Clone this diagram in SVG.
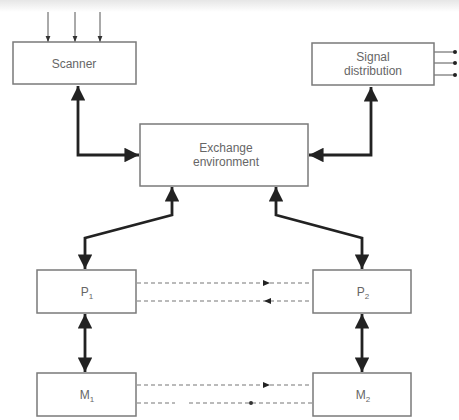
<svg xmlns="http://www.w3.org/2000/svg" width="459" height="420" viewBox="0 0 459 420">
<style>
.box{fill:#fff;stroke:#7a7a7a;stroke-width:1.5}
.t{font-family:"Liberation Sans",Arial,sans-serif;font-size:12px;fill:#666;text-anchor:middle}
.thick{fill:none;stroke:#222;stroke-width:2.8}
.thin{fill:none;stroke:#555;stroke-width:1}
.dash{fill:none;stroke:#777;stroke-width:1.2;stroke-dasharray:4 3}
</style>
<defs>
<linearGradient id="top" x1="0" y1="0" x2="0" y2="1">
<stop offset="0" stop-color="#e6e6e6"/><stop offset="1" stop-color="#fff"/>
</linearGradient>
<marker id="big" viewBox="0 0 10 10" refX="10" refY="5" markerWidth="5.2" markerHeight="5.2" orient="auto-start-reverse" markerUnits="strokeWidth"><path d="M0,0 L10,5 L0,10 Z" fill="#222"/></marker>
<marker id="sm" viewBox="0 0 10 10" refX="10" refY="5" markerWidth="6" markerHeight="6" orient="auto" markerUnits="strokeWidth"><path d="M0,1 L10,5 L0,9 Z" fill="#333"/></marker>
<marker id="dot" viewBox="0 0 10 10" refX="5" refY="5" markerWidth="5" markerHeight="5" markerUnits="strokeWidth"><circle cx="5" cy="5" r="4" fill="#222"/></marker>
</defs>
<rect x="0" y="0" width="459" height="420" fill="#fff"/>
<rect x="0" y="0" width="459" height="12" fill="url(#top)"/>
<g id="connectors">
<line class="thin" x1="48" y1="12" x2="48" y2="42" marker-end="url(#sm)"/>
<line class="thin" x1="75" y1="12" x2="75" y2="42" marker-end="url(#sm)"/>
<line class="thin" x1="100" y1="12" x2="100" y2="42" marker-end="url(#sm)"/>
<line class="thin" x1="434" y1="52" x2="455" y2="52" marker-end="url(#dot)"/>
<line class="thin" x1="434" y1="63" x2="455" y2="63" marker-end="url(#dot)"/>
<line class="thin" x1="434" y1="75" x2="455" y2="75" marker-end="url(#dot)"/>
<polyline class="thick" points="78,86 78,155 139,155" marker-start="url(#big)" marker-end="url(#big)"/>
<polyline class="thick" points="371,87 371,155 309,155" marker-start="url(#big)" marker-end="url(#big)"/>
<polyline class="thick" points="172,187 172,215 85,238 85,269" marker-start="url(#big)" marker-end="url(#big)"/>
<polyline class="thick" points="276,187 276,215 362,238 362,269" marker-start="url(#big)" marker-end="url(#big)"/>
<line class="thick" x1="85" y1="314" x2="85" y2="372" marker-start="url(#big)" marker-end="url(#big)"/>
<line class="thick" x1="362" y1="314" x2="362" y2="372" marker-start="url(#big)" marker-end="url(#big)"/>
<line class="dash" x1="137" y1="283" x2="312" y2="283"/>
<line class="dash" x1="137" y1="301" x2="312" y2="301"/>
<line class="dash" x1="137" y1="385" x2="312" y2="385"/>
<line class="dash" x1="137" y1="403" x2="175" y2="403"/>
<line class="dash" x1="189" y1="403" x2="312" y2="403"/>
<path d="M263,280 L270,283 L263,286 Z" fill="#222"/>
<path d="M271,298 L264,301 L271,304 Z" fill="#222"/>
<path d="M263,382 L270,385 L263,388 Z" fill="#222"/>
<circle cx="251" cy="403" r="2" fill="#333"/>
</g>
<g id="scanner"><rect class="box" x="13" y="42" width="123" height="42"/><text class="t" x="74" y="68">Scanner</text></g>
<g id="signal"><rect class="box" x="312" y="43" width="122" height="42"/><text class="t" x="373" y="61">Signal</text><text class="t" x="373" y="75">distribution</text></g>
<g id="exchange"><rect class="box" x="140" y="124" width="168" height="62"/><text class="t" x="226" y="152">Exchange</text><text class="t" x="226" y="166">environment</text></g>
<g id="p1"><rect class="box" x="37" y="270" width="99" height="43"/><text class="t" x="87" y="296">P<tspan font-size="8" dy="3">1</tspan></text></g>
<g id="p2"><rect class="box" x="313" y="270" width="98" height="43"/><text class="t" x="363" y="296">P<tspan font-size="8" dy="3">2</tspan></text></g>
<g id="m1"><rect class="box" x="37" y="373" width="99" height="43"/><text class="t" x="87" y="399">M<tspan font-size="8" dy="3">1</tspan></text></g>
<g id="m2"><rect class="box" x="313" y="373" width="98" height="43"/><text class="t" x="363" y="399">M<tspan font-size="8" dy="3">2</tspan></text></g>
</svg>
